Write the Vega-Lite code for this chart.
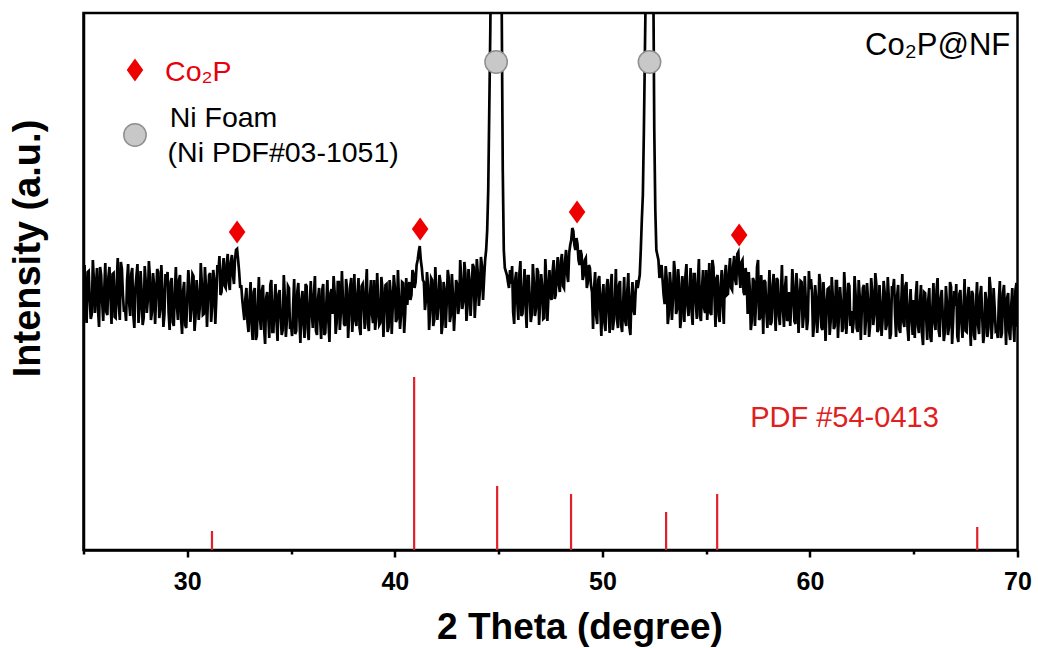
{
"$schema": "https://vega.github.io/schema/vega-lite/v6.json",
"width": 934, "height": 537,
"autosize": {"type": "none"},
"padding": {"left": 83.5, "top": 13, "right": 20.5, "bottom": 98},
"background": "white",
"config": {"view": {"stroke": "black", "strokeWidth": 2.5}, "font": "Liberation Sans"},
"datasets": {
"sticks": [
{"theta":31.19,"intensity":19},{"theta":40.93,"intensity":173},{"theta":44.93,"intensity":64},{"theta":48.49,"intensity":56},{"theta":53.07,"intensity":38},{"theta":55.53,"intensity":56},{"theta":68.06,"intensity":23}
],
"co2p": [
{"theta":32.40,"intensity":318},{"theta":41.22,"intensity":321},{"theta":48.78,"intensity":338},{"theta":56.59,"intensity":315},{"theta":27.48,"intensity":480}
],
"ni": [
{"theta":44.88,"intensity":488},{"theta":52.27,"intensity":488},{"theta":27.48,"intensity":415}
],
"pattern": [
{"theta":25.0,"intensity":268},{"theta":25.1,"intensity":243},{"theta":25.2,"intensity":278},{"theta":25.3,"intensity":250},{"theta":25.4,"intensity":236},{"theta":25.5,"intensity":270},{"theta":25.6,"intensity":263},{"theta":25.7,"intensity":240},{"theta":25.8,"intensity":283},{"theta":25.9,"intensity":248},
{"theta":26.0,"intensity":260},{"theta":26.1,"intensity":238},{"theta":26.2,"intensity":273},{"theta":26.3,"intensity":253},{"theta":26.4,"intensity":276},{"theta":26.5,"intensity":233},{"theta":26.6,"intensity":266},{"theta":26.7,"intensity":246},{"theta":26.8,"intensity":288},{"theta":26.9,"intensity":255},
{"theta":27.0,"intensity":242},{"theta":27.1,"intensity":270},{"theta":27.2,"intensity":247},{"theta":27.3,"intensity":276},{"theta":27.4,"intensity":235},{"theta":27.5,"intensity":262},{"theta":27.6,"intensity":286},{"theta":27.7,"intensity":242},{"theta":27.8,"intensity":259},{"theta":27.9,"intensity":232},
{"theta":28.0,"intensity":268},{"theta":28.1,"intensity":250},{"theta":28.2,"intensity":273},{"theta":28.3,"intensity":238},{"theta":28.4,"intensity":265},{"theta":28.5,"intensity":254},{"theta":28.6,"intensity":278},{"theta":28.7,"intensity":241},{"theta":28.8,"intensity":261},{"theta":28.9,"intensity":236},
{"theta":29.0,"intensity":267},{"theta":29.1,"intensity":238},{"theta":29.2,"intensity":268},{"theta":29.3,"intensity":228},{"theta":29.4,"intensity":257},{"theta":29.5,"intensity":245},{"theta":29.6,"intensity":270},{"theta":29.7,"intensity":232},{"theta":29.8,"intensity":260},{"theta":29.9,"intensity":225},
{"theta":30.0,"intensity":253},{"theta":30.1,"intensity":265},{"theta":30.2,"intensity":240},{"theta":30.3,"intensity":274},{"theta":30.4,"intensity":234},{"theta":30.5,"intensity":256},{"theta":30.6,"intensity":242},{"theta":30.7,"intensity":267},{"theta":30.8,"intensity":236},{"theta":30.9,"intensity":264},
{"theta":31.0,"intensity":252},{"theta":31.1,"intensity":277},{"theta":31.2,"intensity":244},{"theta":31.3,"intensity":271},{"theta":31.4,"intensity":252},{"theta":31.5,"intensity":278},{"theta":31.6,"intensity":255},{"theta":31.7,"intensity":280},{"theta":31.8,"intensity":264},{"theta":31.9,"intensity":287},
{"theta":32.0,"intensity":267},{"theta":32.1,"intensity":288},{"theta":32.2,"intensity":275},{"theta":32.3,"intensity":291},{"theta":32.4,"intensity":301},{"theta":32.5,"intensity":278},{"theta":32.6,"intensity":265},{"theta":32.7,"intensity":240},{"theta":32.8,"intensity":252},{"theta":32.9,"intensity":228},
{"theta":33.0,"intensity":250},{"theta":33.1,"intensity":225},{"theta":33.2,"intensity":258},{"theta":33.3,"intensity":210},{"theta":33.4,"intensity":245},{"theta":33.5,"intensity":232},{"theta":33.6,"intensity":260},{"theta":33.7,"intensity":222},{"theta":33.8,"intensity":252},{"theta":33.9,"intensity":235},
{"theta":34.0,"intensity":265},{"theta":34.1,"intensity":218},{"theta":34.2,"intensity":248},{"theta":34.3,"intensity":228},{"theta":34.4,"intensity":256},{"theta":34.5,"intensity":234},{"theta":34.6,"intensity":220},{"theta":34.7,"intensity":254},{"theta":34.8,"intensity":230},{"theta":34.9,"intensity":262},
{"theta":35.0,"intensity":224},{"theta":35.1,"intensity":244},{"theta":35.2,"intensity":216},{"theta":35.3,"intensity":258},{"theta":35.4,"intensity":232},{"theta":35.5,"intensity":250},{"theta":35.6,"intensity":226},{"theta":35.7,"intensity":266},{"theta":35.8,"intensity":221},{"theta":35.9,"intensity":246},
{"theta":36.0,"intensity":237},{"theta":36.1,"intensity":255},{"theta":36.2,"intensity":219},{"theta":36.3,"intensity":251},{"theta":36.4,"intensity":231},{"theta":36.5,"intensity":260},{"theta":36.6,"intensity":215},{"theta":36.7,"intensity":247},{"theta":36.8,"intensity":228},{"theta":36.9,"intensity":257},
{"theta":37.0,"intensity":236},{"theta":37.1,"intensity":258},{"theta":37.2,"intensity":228},{"theta":37.3,"intensity":268},{"theta":37.4,"intensity":238},{"theta":37.5,"intensity":251},{"theta":37.6,"intensity":224},{"theta":37.7,"intensity":261},{"theta":37.8,"intensity":234},{"theta":37.9,"intensity":272},
{"theta":38.0,"intensity":241},{"theta":38.1,"intensity":230},{"theta":38.2,"intensity":256},{"theta":38.3,"intensity":222},{"theta":38.4,"intensity":264},{"theta":38.5,"intensity":243},{"theta":38.6,"intensity":260},{"theta":38.7,"intensity":226},{"theta":38.8,"intensity":254},{"theta":38.9,"intensity":236},
{"theta":39.0,"intensity":270},{"theta":39.1,"intensity":232},{"theta":39.2,"intensity":248},{"theta":39.3,"intensity":227},{"theta":39.4,"intensity":262},{"theta":39.5,"intensity":239},{"theta":39.6,"intensity":266},{"theta":39.7,"intensity":223},{"theta":39.8,"intensity":257},{"theta":39.9,"intensity":244},
{"theta":40.0,"intensity":263},{"theta":40.1,"intensity":231},{"theta":40.2,"intensity":252},{"theta":40.3,"intensity":235},{"theta":40.4,"intensity":267},{"theta":40.5,"intensity":237},{"theta":40.6,"intensity":245},{"theta":40.7,"intensity":268},{"theta":40.8,"intensity":255},{"theta":40.9,"intensity":276},
{"theta":41.0,"intensity":268},{"theta":41.1,"intensity":290},{"theta":41.2,"intensity":304},{"theta":41.3,"intensity":282},{"theta":41.4,"intensity":268},{"theta":41.5,"intensity":250},{"theta":41.6,"intensity":265},{"theta":41.7,"intensity":238},{"theta":41.8,"intensity":270},{"theta":41.9,"intensity":230},
{"theta":42.0,"intensity":258},{"theta":42.1,"intensity":244},{"theta":42.2,"intensity":268},{"theta":42.3,"intensity":226},{"theta":42.4,"intensity":260},{"theta":42.5,"intensity":247},{"theta":42.6,"intensity":272},{"theta":42.7,"intensity":235},{"theta":42.8,"intensity":255},{"theta":42.9,"intensity":240},
{"theta":43.0,"intensity":266},{"theta":43.1,"intensity":243},{"theta":43.2,"intensity":270},{"theta":43.3,"intensity":248},{"theta":43.4,"intensity":277},{"theta":43.5,"intensity":243},{"theta":43.6,"intensity":269},{"theta":43.7,"intensity":255},{"theta":43.8,"intensity":283},{"theta":43.9,"intensity":252},
{"theta":44.0,"intensity":276},{"theta":44.1,"intensity":260},{"theta":44.2,"intensity":284},{"theta":44.3,"intensity":271},{"theta":44.35,"intensity":290},{"theta":44.4,"intensity":300},{"theta":44.45,"intensity":320},{"theta":44.5,"intensity":360},{"theta":44.55,"intensity":440},{"theta":44.6,"intensity":520},
{"theta":44.65,"intensity":640},{"theta":44.7,"intensity":1500},{"theta":44.8,"intensity":4000},{"theta":44.95,"intensity":4000},{"theta":45.05,"intensity":1500},{"theta":45.1,"intensity":640},{"theta":45.15,"intensity":540},{"theta":45.2,"intensity":380},{"theta":45.25,"intensity":300},{"theta":45.3,"intensity":282},
{"theta":45.4,"intensity":275},{"theta":45.5,"intensity":262},{"theta":45.6,"intensity":266},{"theta":45.7,"intensity":238},{"theta":45.8,"intensity":271},{"theta":45.9,"intensity":248},
{"theta":46.0,"intensity":276},{"theta":46.1,"intensity":234},{"theta":46.2,"intensity":261},{"theta":46.3,"intensity":244},{"theta":46.4,"intensity":274},{"theta":46.5,"intensity":251},{"theta":46.6,"intensity":236},{"theta":46.7,"intensity":268},{"theta":46.8,"intensity":241},{"theta":46.9,"intensity":278},
{"theta":47.0,"intensity":248},{"theta":47.1,"intensity":264},{"theta":47.2,"intensity":232},{"theta":47.3,"intensity":270},{"theta":47.4,"intensity":253},{"theta":47.5,"intensity":254},{"theta":47.6,"intensity":278},{"theta":47.7,"intensity":251},{"theta":47.8,"intensity":280},{"theta":47.9,"intensity":265},
{"theta":48.0,"intensity":289},{"theta":48.1,"intensity":264},{"theta":48.2,"intensity":289},{"theta":48.3,"intensity":276},{"theta":48.4,"intensity":297},{"theta":48.5,"intensity":310},{"theta":48.6,"intensity":319},{"theta":48.7,"intensity":300},{"theta":48.8,"intensity":306},{"theta":48.9,"intensity":285},
{"theta":49.0,"intensity":295},{"theta":49.1,"intensity":275},{"theta":49.2,"intensity":292},{"theta":49.3,"intensity":268},{"theta":49.4,"intensity":282},{"theta":49.5,"intensity":258},{"theta":49.6,"intensity":262},{"theta":49.7,"intensity":234},{"theta":49.8,"intensity":270},{"theta":49.9,"intensity":240},
{"theta":50.0,"intensity":254},{"theta":50.1,"intensity":227},{"theta":50.2,"intensity":262},{"theta":50.3,"intensity":239},{"theta":50.4,"intensity":265},{"theta":50.5,"intensity":220},{"theta":50.6,"intensity":250},{"theta":50.7,"intensity":231},{"theta":50.8,"intensity":265},{"theta":50.9,"intensity":225},
{"theta":51.0,"intensity":246},{"theta":51.1,"intensity":229},{"theta":51.2,"intensity":259},{"theta":51.3,"intensity":223},{"theta":51.4,"intensity":253},{"theta":51.5,"intensity":240},{"theta":51.6,"intensity":258},{"theta":51.7,"intensity":262},{"theta":51.8,"intensity":275},{"theta":51.85,"intensity":300},
{"theta":51.9,"intensity":330},{"theta":51.95,"intensity":355},{"theta":52.0,"intensity":420},{"theta":52.05,"intensity":500},{"theta":52.1,"intensity":580},{"theta":52.15,"intensity":1500},{"theta":52.25,"intensity":4000},{"theta":52.35,"intensity":4000},{"theta":52.45,"intensity":580},{"theta":52.5,"intensity":420},
{"theta":52.55,"intensity":340},{"theta":52.6,"intensity":300},{"theta":52.7,"intensity":290},{"theta":52.8,"intensity":280},{"theta":52.9,"intensity":270},
{"theta":53.0,"intensity":246},{"theta":53.1,"intensity":271},{"theta":53.2,"intensity":236},{"theta":53.3,"intensity":264},{"theta":53.4,"intensity":251},{"theta":53.5,"intensity":278},{"theta":53.6,"intensity":241},{"theta":53.7,"intensity":266},{"theta":53.8,"intensity":232},{"theta":53.9,"intensity":261},
{"theta":54.0,"intensity":274},{"theta":54.1,"intensity":244},{"theta":54.2,"intensity":259},{"theta":54.3,"intensity":238},{"theta":54.4,"intensity":276},{"theta":54.5,"intensity":248},{"theta":54.6,"intensity":268},{"theta":54.7,"intensity":234},{"theta":54.8,"intensity":262},{"theta":54.9,"intensity":242},
{"theta":55.0,"intensity":280},{"theta":55.1,"intensity":250},{"theta":55.2,"intensity":237},{"theta":55.3,"intensity":290},{"theta":55.4,"intensity":253},{"theta":55.5,"intensity":272},{"theta":55.6,"intensity":235},{"theta":55.7,"intensity":265},{"theta":55.8,"intensity":245},{"theta":55.9,"intensity":275},
{"theta":56.0,"intensity":255},{"theta":56.1,"intensity":278},{"theta":56.2,"intensity":262},{"theta":56.3,"intensity":284},{"theta":56.4,"intensity":270},{"theta":56.5,"intensity":296},{"theta":56.6,"intensity":275},{"theta":56.7,"intensity":288},{"theta":56.8,"intensity":258},{"theta":56.9,"intensity":282},
{"theta":57.0,"intensity":236},{"theta":57.1,"intensity":262},{"theta":57.2,"intensity":229},{"theta":57.3,"intensity":269},{"theta":57.4,"intensity":245},{"theta":57.5,"intensity":290},{"theta":57.6,"intensity":232},{"theta":57.7,"intensity":256},{"theta":57.8,"intensity":270},{"theta":57.9,"intensity":238},
{"theta":58.0,"intensity":253},{"theta":58.1,"intensity":225},{"theta":58.2,"intensity":265},{"theta":58.3,"intensity":242},{"theta":58.4,"intensity":272},{"theta":58.5,"intensity":234},{"theta":58.6,"intensity":256},{"theta":58.7,"intensity":240},{"theta":58.8,"intensity":263},{"theta":58.9,"intensity":229},
{"theta":59.0,"intensity":258},{"theta":59.1,"intensity":245},{"theta":59.2,"intensity":266},{"theta":59.3,"intensity":226},{"theta":59.4,"intensity":260},{"theta":59.5,"intensity":242},{"theta":59.6,"intensity":268},{"theta":59.7,"intensity":234},{"theta":59.8,"intensity":250},{"theta":59.9,"intensity":230},
{"theta":60.0,"intensity":261},{"theta":60.1,"intensity":258},{"theta":60.2,"intensity":226},{"theta":60.3,"intensity":252},{"theta":60.4,"intensity":234},{"theta":60.5,"intensity":266},{"theta":60.6,"intensity":220},{"theta":60.7,"intensity":249},{"theta":60.8,"intensity":238},{"theta":60.9,"intensity":262},
{"theta":61.0,"intensity":229},{"theta":61.1,"intensity":254},{"theta":61.2,"intensity":224},{"theta":61.3,"intensity":269},{"theta":61.4,"intensity":236},{"theta":61.5,"intensity":247},{"theta":61.6,"intensity":222},{"theta":61.7,"intensity":260},{"theta":61.8,"intensity":232},{"theta":61.9,"intensity":264},
{"theta":62.0,"intensity":239},{"theta":62.1,"intensity":227},{"theta":62.2,"intensity":256},{"theta":62.3,"intensity":218},{"theta":62.4,"intensity":253},{"theta":62.5,"intensity":241},{"theta":62.6,"intensity":265},{"theta":62.7,"intensity":230},{"theta":62.8,"intensity":250},{"theta":62.9,"intensity":225},
{"theta":63.0,"intensity":259},{"theta":63.1,"intensity":235},{"theta":63.2,"intensity":265},{"theta":63.3,"intensity":220},{"theta":63.4,"intensity":245},{"theta":63.5,"intensity":230},{"theta":63.6,"intensity":258},{"theta":63.7,"intensity":225},{"theta":63.8,"intensity":252},{"theta":63.9,"intensity":216},
{"theta":64.0,"intensity":260},{"theta":64.1,"intensity":235},{"theta":64.2,"intensity":254},{"theta":64.3,"intensity":221},{"theta":64.4,"intensity":248},{"theta":64.5,"intensity":228},{"theta":64.6,"intensity":264},{"theta":64.7,"intensity":223},{"theta":64.8,"intensity":243},{"theta":64.9,"intensity":231},
{"theta":65.0,"intensity":250},{"theta":65.1,"intensity":254},{"theta":65.2,"intensity":224},{"theta":65.3,"intensity":247},{"theta":65.4,"intensity":216},{"theta":65.5,"intensity":258},{"theta":65.6,"intensity":232},{"theta":65.7,"intensity":250},{"theta":65.8,"intensity":213},{"theta":65.9,"intensity":243},
{"theta":66.0,"intensity":228},{"theta":66.1,"intensity":260},{"theta":66.2,"intensity":220},{"theta":66.3,"intensity":252},{"theta":66.4,"intensity":235},{"theta":66.5,"intensity":218},{"theta":66.6,"intensity":248},{"theta":66.7,"intensity":223},{"theta":66.8,"intensity":263},{"theta":66.9,"intensity":230},
{"theta":67.0,"intensity":244},{"theta":67.1,"intensity":214},{"theta":67.2,"intensity":256},{"theta":67.3,"intensity":227},{"theta":67.4,"intensity":241},{"theta":67.5,"intensity":219},{"theta":67.6,"intensity":253},{"theta":67.7,"intensity":231},{"theta":67.8,"intensity":259},{"theta":67.9,"intensity":215},
{"theta":68.0,"intensity":246},{"theta":68.1,"intensity":225},{"theta":68.2,"intensity":255},{"theta":68.3,"intensity":233},{"theta":68.4,"intensity":217},{"theta":68.5,"intensity":250},{"theta":68.6,"intensity":222},{"theta":68.7,"intensity":262},{"theta":68.8,"intensity":229},{"theta":68.9,"intensity":242},
{"theta":69.0,"intensity":220},{"theta":69.1,"intensity":249},{"theta":69.2,"intensity":212},{"theta":69.3,"intensity":257},{"theta":69.4,"intensity":234},{"theta":69.5,"intensity":252},{"theta":69.6,"intensity":218},{"theta":69.7,"intensity":245},{"theta":69.8,"intensity":226},{"theta":69.9,"intensity":260},
{"theta":70.0,"intensity":223},
{"theta":25.05,"intensity":285},{"theta":25.15,"intensity":227},{"theta":25.25,"intensity":279},{"theta":25.35,"intensity":231},{"theta":25.45,"intensity":290},{"theta":25.55,"intensity":237},{"theta":25.65,"intensity":282},{"theta":25.75,"intensity":223},{"theta":25.85,"intensity":275},{"theta":25.95,"intensity":229},
{"theta":26.05,"intensity":287},{"theta":26.15,"intensity":235},{"theta":26.25,"intensity":283},{"theta":26.35,"intensity":226},{"theta":26.45,"intensity":277},{"theta":26.55,"intensity":232},{"theta":26.65,"intensity":292},{"theta":26.75,"intensity":230},{"theta":26.85,"intensity":281},{"theta":26.95,"intensity":238},
{"theta":27.05,"intensity":229},{"theta":27.15,"intensity":286},{"theta":27.25,"intensity":234},{"theta":27.35,"intensity":282},{"theta":27.45,"intensity":222},{"theta":27.55,"intensity":274},{"theta":27.65,"intensity":227},{"theta":27.75,"intensity":279},{"theta":27.85,"intensity":225},{"theta":27.95,"intensity":284},
{"theta":28.05,"intensity":237},{"theta":28.15,"intensity":289},{"theta":28.25,"intensity":230},{"theta":28.35,"intensity":277},{"theta":28.45,"intensity":226},{"theta":28.55,"intensity":281},{"theta":28.65,"intensity":232},{"theta":28.75,"intensity":285},{"theta":28.85,"intensity":223},{"theta":28.95,"intensity":276},
{"theta":29.05,"intensity":278},{"theta":29.15,"intensity":220},{"theta":29.25,"intensity":272},{"theta":29.35,"intensity":224},{"theta":29.45,"intensity":283},{"theta":29.55,"intensity":230},{"theta":29.65,"intensity":275},{"theta":29.75,"intensity":216},{"theta":29.85,"intensity":268},{"theta":29.95,"intensity":222},
{"theta":30.05,"intensity":280},{"theta":30.15,"intensity":228},{"theta":30.25,"intensity":276},{"theta":30.35,"intensity":219},{"theta":30.45,"intensity":270},{"theta":30.55,"intensity":230},{"theta":30.65,"intensity":287},{"theta":30.75,"intensity":235},{"theta":30.85,"intensity":283},{"theta":30.95,"intensity":223},
{"theta":31.05,"intensity":275},{"theta":31.15,"intensity":228},{"theta":31.25,"intensity":280},{"theta":31.35,"intensity":226},{"theta":31.45,"intensity":285},{"theta":31.55,"intensity":294},{"theta":31.65,"intensity":258},{"theta":31.75,"intensity":292},{"theta":31.85,"intensity":262},{"theta":31.95,"intensity":296},
{"theta":32.05,"intensity":260},{"theta":32.15,"intensity":295},{"theta":32.25,"intensity":266},{"theta":32.35,"intensity":300},{"theta":32.45,"intensity":290},{"theta":32.55,"intensity":262},{"theta":32.65,"intensity":250},{"theta":32.75,"intensity":230},{"theta":32.85,"intensity":262},{"theta":32.95,"intensity":218},
{"theta":33.05,"intensity":268},{"theta":33.15,"intensity":210},{"theta":33.25,"intensity":262},{"theta":33.35,"intensity":214},{"theta":33.45,"intensity":273},{"theta":33.55,"intensity":220},{"theta":33.65,"intensity":265},{"theta":33.75,"intensity":206},{"theta":33.85,"intensity":258},{"theta":33.95,"intensity":212},
{"theta":34.05,"intensity":270},{"theta":34.15,"intensity":218},{"theta":34.25,"intensity":266},{"theta":34.35,"intensity":209},{"theta":34.45,"intensity":260},{"theta":34.55,"intensity":215},{"theta":34.65,"intensity":275},{"theta":34.75,"intensity":213},{"theta":34.85,"intensity":264},{"theta":34.95,"intensity":221},
{"theta":35.05,"intensity":214},{"theta":35.15,"intensity":271},{"theta":35.25,"intensity":219},{"theta":35.35,"intensity":267},{"theta":35.45,"intensity":207},{"theta":35.55,"intensity":259},{"theta":35.65,"intensity":212},{"theta":35.75,"intensity":264},{"theta":35.85,"intensity":210},{"theta":35.95,"intensity":269},
{"theta":36.05,"intensity":222},{"theta":36.15,"intensity":274},{"theta":36.25,"intensity":215},{"theta":36.35,"intensity":262},{"theta":36.45,"intensity":211},{"theta":36.55,"intensity":266},{"theta":36.65,"intensity":217},{"theta":36.75,"intensity":270},{"theta":36.85,"intensity":208},{"theta":36.95,"intensity":261},
{"theta":37.05,"intensity":274},{"theta":37.15,"intensity":216},{"theta":37.25,"intensity":268},{"theta":37.35,"intensity":220},{"theta":37.45,"intensity":279},{"theta":37.55,"intensity":226},{"theta":37.65,"intensity":271},{"theta":37.75,"intensity":212},{"theta":37.85,"intensity":264},{"theta":37.95,"intensity":218},
{"theta":38.05,"intensity":276},{"theta":38.15,"intensity":224},{"theta":38.25,"intensity":272},{"theta":38.35,"intensity":215},{"theta":38.45,"intensity":266},{"theta":38.55,"intensity":221},{"theta":38.65,"intensity":281},{"theta":38.75,"intensity":219},{"theta":38.85,"intensity":270},{"theta":38.95,"intensity":227},
{"theta":39.05,"intensity":220},{"theta":39.15,"intensity":277},{"theta":39.25,"intensity":225},{"theta":39.35,"intensity":273},{"theta":39.45,"intensity":213},{"theta":39.55,"intensity":265},{"theta":39.65,"intensity":218},{"theta":39.75,"intensity":270},{"theta":39.85,"intensity":216},{"theta":39.95,"intensity":275},
{"theta":40.05,"intensity":228},{"theta":40.15,"intensity":280},{"theta":40.25,"intensity":221},{"theta":40.35,"intensity":268},{"theta":40.45,"intensity":217},{"theta":40.55,"intensity":272},{"theta":40.65,"intensity":262},{"theta":40.75,"intensity":250},{"theta":40.85,"intensity":280},{"theta":40.95,"intensity":262},
{"theta":41.05,"intensity":285},{"theta":41.15,"intensity":298},{"theta":41.25,"intensity":290},{"theta":41.35,"intensity":270},{"theta":41.45,"intensity":240},{"theta":41.55,"intensity":278},{"theta":41.65,"intensity":220},{"theta":41.75,"intensity":272},{"theta":41.85,"intensity":224},{"theta":41.95,"intensity":283},
{"theta":42.05,"intensity":230},{"theta":42.15,"intensity":275},{"theta":42.25,"intensity":216},{"theta":42.35,"intensity":268},{"theta":42.45,"intensity":222},{"theta":42.55,"intensity":280},{"theta":42.65,"intensity":228},{"theta":42.75,"intensity":276},{"theta":42.85,"intensity":219},{"theta":42.95,"intensity":270},
{"theta":43.05,"intensity":236},{"theta":43.15,"intensity":290},{"theta":43.25,"intensity":241},{"theta":43.35,"intensity":288},{"theta":43.45,"intensity":229},{"theta":43.55,"intensity":281},{"theta":43.65,"intensity":234},{"theta":43.75,"intensity":286},{"theta":43.85,"intensity":232},{"theta":43.95,"intensity":291},
{"theta":44.05,"intensity":244},{"theta":44.15,"intensity":293},{"theta":44.25,"intensity":250},{"theta":45.45,"intensity":268},{"theta":45.55,"intensity":280},
{"theta":45.65,"intensity":284},{"theta":45.75,"intensity":226},{"theta":45.85,"intensity":278},{"theta":45.95,"intensity":230},{"theta":46.05,"intensity":289},{"theta":46.15,"intensity":236},{"theta":46.25,"intensity":281},{"theta":46.35,"intensity":222},{"theta":46.45,"intensity":274},{"theta":46.55,"intensity":228},
{"theta":46.65,"intensity":286},{"theta":46.75,"intensity":234},{"theta":46.85,"intensity":282},{"theta":46.95,"intensity":225},{"theta":47.05,"intensity":276},{"theta":47.15,"intensity":231},{"theta":47.25,"intensity":291},{"theta":47.35,"intensity":229},{"theta":47.45,"intensity":280},
{"theta":47.55,"intensity":250},{"theta":47.65,"intensity":290},{"theta":47.75,"intensity":255},{"theta":47.85,"intensity":293},{"theta":47.95,"intensity":258},{"theta":48.05,"intensity":296},{"theta":48.15,"intensity":262},{"theta":48.25,"intensity":300},{"theta":48.35,"intensity":268},{"theta":48.45,"intensity":305},
{"theta":48.55,"intensity":322},{"theta":48.65,"intensity":305},{"theta":48.75,"intensity":312},{"theta":48.85,"intensity":290},{"theta":48.95,"intensity":300},{"theta":49.05,"intensity":270},{"theta":49.15,"intensity":290},{"theta":49.25,"intensity":262},{"theta":49.35,"intensity":285},{"theta":49.45,"intensity":265},
{"theta":49.55,"intensity":221},{"theta":49.65,"intensity":278},{"theta":49.75,"intensity":226},{"theta":49.85,"intensity":274},{"theta":49.95,"intensity":214},{"theta":50.05,"intensity":266},{"theta":50.15,"intensity":219},{"theta":50.25,"intensity":271},{"theta":50.35,"intensity":217},{"theta":50.45,"intensity":276},
{"theta":50.55,"intensity":229},{"theta":50.65,"intensity":281},{"theta":50.75,"intensity":222},{"theta":50.85,"intensity":269},{"theta":50.95,"intensity":218},{"theta":51.05,"intensity":273},{"theta":51.15,"intensity":224},{"theta":51.25,"intensity":277},{"theta":51.35,"intensity":215},{"theta":51.45,"intensity":268},
{"theta":51.55,"intensity":235},{"theta":51.65,"intensity":270},{"theta":52.65,"intensity":295},{"theta":52.75,"intensity":272},{"theta":52.85,"intensity":285},{"theta":52.95,"intensity":255},
{"theta":53.05,"intensity":284},{"theta":53.15,"intensity":226},{"theta":53.25,"intensity":278},{"theta":53.35,"intensity":230},{"theta":53.45,"intensity":289},{"theta":53.55,"intensity":236},{"theta":53.65,"intensity":281},{"theta":53.75,"intensity":222},{"theta":53.85,"intensity":274},{"theta":53.95,"intensity":228},
{"theta":54.05,"intensity":286},{"theta":54.15,"intensity":234},{"theta":54.25,"intensity":282},{"theta":54.35,"intensity":225},{"theta":54.45,"intensity":276},{"theta":54.55,"intensity":231},{"theta":54.65,"intensity":291},{"theta":54.75,"intensity":229},{"theta":54.85,"intensity":280},{"theta":54.95,"intensity":237},
{"theta":55.05,"intensity":230},{"theta":55.15,"intensity":287},{"theta":55.25,"intensity":235},{"theta":55.35,"intensity":283},{"theta":55.45,"intensity":223},{"theta":55.55,"intensity":275},{"theta":55.65,"intensity":228},{"theta":55.75,"intensity":280},{"theta":55.85,"intensity":226},{"theta":55.95,"intensity":285},
{"theta":56.05,"intensity":256},{"theta":56.15,"intensity":292},{"theta":56.25,"intensity":260},{"theta":56.35,"intensity":294},{"theta":56.45,"intensity":265},{"theta":56.55,"intensity":298},{"theta":56.65,"intensity":262},{"theta":56.75,"intensity":290},{"theta":56.85,"intensity":255},{"theta":56.95,"intensity":272},
{"theta":57.05,"intensity":278},{"theta":57.15,"intensity":220},{"theta":57.25,"intensity":272},{"theta":57.35,"intensity":224},{"theta":57.45,"intensity":283},{"theta":57.55,"intensity":230},{"theta":57.65,"intensity":275},{"theta":57.75,"intensity":216},{"theta":57.85,"intensity":268},{"theta":57.95,"intensity":222},
{"theta":58.05,"intensity":280},{"theta":58.15,"intensity":228},{"theta":58.25,"intensity":276},{"theta":58.35,"intensity":219},{"theta":58.45,"intensity":270},{"theta":58.55,"intensity":225},{"theta":58.65,"intensity":285},{"theta":58.75,"intensity":223},{"theta":58.85,"intensity":274},{"theta":58.95,"intensity":231},
{"theta":59.05,"intensity":224},{"theta":59.15,"intensity":281},{"theta":59.25,"intensity":229},{"theta":59.35,"intensity":277},{"theta":59.45,"intensity":217},{"theta":59.55,"intensity":269},{"theta":59.65,"intensity":222},{"theta":59.75,"intensity":274},{"theta":59.85,"intensity":220},{"theta":59.95,"intensity":279},
{"theta":60.05,"intensity":271},{"theta":60.15,"intensity":213},{"theta":60.25,"intensity":265},{"theta":60.35,"intensity":217},{"theta":60.45,"intensity":276},{"theta":60.55,"intensity":223},{"theta":60.65,"intensity":268},{"theta":60.75,"intensity":209},{"theta":60.85,"intensity":261},{"theta":60.95,"intensity":215},
{"theta":61.05,"intensity":273},{"theta":61.15,"intensity":221},{"theta":61.25,"intensity":269},{"theta":61.35,"intensity":212},{"theta":61.45,"intensity":263},{"theta":61.55,"intensity":218},{"theta":61.65,"intensity":278},{"theta":61.75,"intensity":216},{"theta":61.85,"intensity":267},{"theta":61.95,"intensity":224},
{"theta":62.05,"intensity":217},{"theta":62.15,"intensity":274},{"theta":62.25,"intensity":222},{"theta":62.35,"intensity":270},{"theta":62.45,"intensity":210},{"theta":62.55,"intensity":262},{"theta":62.65,"intensity":215},{"theta":62.75,"intensity":267},{"theta":62.85,"intensity":213},{"theta":62.95,"intensity":272},
{"theta":63.05,"intensity":225},{"theta":63.15,"intensity":277},{"theta":63.25,"intensity":218},{"theta":63.35,"intensity":265},{"theta":63.45,"intensity":214},{"theta":63.55,"intensity":269},{"theta":63.65,"intensity":220},{"theta":63.75,"intensity":273},{"theta":63.85,"intensity":211},{"theta":63.95,"intensity":264},
{"theta":64.05,"intensity":271},{"theta":64.15,"intensity":213},{"theta":64.25,"intensity":265},{"theta":64.35,"intensity":217},{"theta":64.45,"intensity":276},{"theta":64.55,"intensity":223},{"theta":64.65,"intensity":268},{"theta":64.75,"intensity":209},{"theta":64.85,"intensity":261},{"theta":64.95,"intensity":215},
{"theta":65.05,"intensity":212},{"theta":65.15,"intensity":269},{"theta":65.25,"intensity":217},{"theta":65.35,"intensity":265},{"theta":65.45,"intensity":205},{"theta":65.55,"intensity":257},{"theta":65.65,"intensity":210},{"theta":65.75,"intensity":262},{"theta":65.85,"intensity":208},{"theta":65.95,"intensity":267},
{"theta":66.05,"intensity":220},{"theta":66.15,"intensity":272},{"theta":66.25,"intensity":213},{"theta":66.35,"intensity":260},{"theta":66.45,"intensity":209},{"theta":66.55,"intensity":264},{"theta":66.65,"intensity":215},{"theta":66.75,"intensity":268},{"theta":66.85,"intensity":206},{"theta":66.95,"intensity":259},
{"theta":67.05,"intensity":266},{"theta":67.15,"intensity":208},{"theta":67.25,"intensity":260},{"theta":67.35,"intensity":212},{"theta":67.45,"intensity":271},{"theta":67.55,"intensity":218},{"theta":67.65,"intensity":263},{"theta":67.75,"intensity":204},{"theta":67.85,"intensity":256},{"theta":67.95,"intensity":210},
{"theta":68.05,"intensity":268},{"theta":68.15,"intensity":216},{"theta":68.25,"intensity":264},{"theta":68.35,"intensity":207},{"theta":68.45,"intensity":258},{"theta":68.55,"intensity":213},{"theta":68.65,"intensity":273},{"theta":68.75,"intensity":211},{"theta":68.85,"intensity":262},{"theta":68.95,"intensity":219},
{"theta":69.05,"intensity":212},{"theta":69.15,"intensity":269},{"theta":69.25,"intensity":217},{"theta":69.35,"intensity":265},{"theta":69.45,"intensity":205},{"theta":69.55,"intensity":257},{"theta":69.65,"intensity":210},{"theta":69.75,"intensity":262},{"theta":69.85,"intensity":208},{"theta":69.95,"intensity":267}
],
"notes": [
{"label":"Co₂P","theta":28.93,"intensity":469},
{"label":"Ni Foam","theta":29.15,"intensity":423},
{"label":"(Ni PDF#03-1051)","theta":29.05,"intensity":388}
]
},
"layer": [
{
"data": {"name": "sticks"},
"mark": {"type": "rule", "color": "#e0202a", "strokeWidth": 2.2},
"encoding": {
"x": {"field": "theta", "type": "quantitative", "title": "2 Theta (degree)",
"scale": {"domain": [25, 70], "nice": false, "zero": false},
"axis": {"title": "2 Theta (degree)", "values": [25,30,35,40,45,50,55,60,65,70],
"labelExpr": "datum.value % 10 === 0 ? datum.label : ''",
"tickSize": {"condition": {"test": "datum.value % 10 === 0", "value": 7}, "value": 4},
"tickWidth": 2.5, "tickColor": "black", "domainColor": "black", "domainWidth": 2.5,
"grid": false, "labelFlush": false, "labelOverlap": false,
"labelFont": "Liberation Sans", "labelFontWeight": "bold", "labelFontSize": 25, "labelColor": "black", "labelPadding": 12,
"titleFont": "Liberation Sans", "titleFontWeight": "bold", "titleFontSize": 37, "titleColor": "black", "titlePadding": 15, "titleX": 496}},
"y": {"field": "intensity", "type": "quantitative", "title": "Intensity (a.u.)",
"scale": {"domain": [0, 537], "nice": false, "zero": false},
"axis": {"title": "Intensity (a.u.)", "labels": false, "ticks": false, "grid": false, "domainColor": "black", "domainWidth": 2.5,
"titleFont": "Liberation Sans", "titleFontWeight": "bold", "titleFontSize": 38, "titleColor": "black", "titlePadding": 36, "titleY": 235}},
"y2": {"datum": 0}
}
},
{
"data": {"name": "pattern"},
"mark": {"type": "line", "color": "black", "strokeWidth": 2.7, "clip": true},
"encoding": {
"x": {"field": "theta", "type": "quantitative", "title": "2 Theta (degree)"},
"y": {"field": "intensity", "type": "quantitative", "title": "Intensity (a.u.)"}
}
},
{
"data": {"name": "co2p"},
"mark": {"type": "point", "shape": "M0,-1L0.72,0L0,1L-0.72,0Z", "filled": true, "color": "#ee0000", "opacity": 1, "size": 529, "strokeWidth": 0},
"encoding": {
"x": {"field": "theta", "type": "quantitative", "title": "2 Theta (degree)"},
"y": {"field": "intensity", "type": "quantitative", "title": "Intensity (a.u.)"}
}
},
{
"data": {"name": "ni"},
"mark": {"type": "point", "shape": "circle", "filled": true, "fill": "#c8c8c8", "stroke": "#8f8f8f", "strokeWidth": 1.5, "opacity": 1, "size": 500},
"encoding": {
"x": {"field": "theta", "type": "quantitative", "title": "2 Theta (degree)"},
"y": {"field": "intensity", "type": "quantitative", "title": "Intensity (a.u.)"}
}
},
{
"data": {"name": "notes"},
"mark": {"type": "text", "align": "left", "baseline": "alphabetic", "fontSize": 28.5, "font": "Liberation Sans"},
"encoding": {
"x": {"field": "theta", "type": "quantitative", "title": "2 Theta (degree)"},
"y": {"field": "intensity", "type": "quantitative", "title": "Intensity (a.u.)"},
"text": {"field": "label", "type": "nominal"},
"color": {"field": "label", "type": "nominal", "legend": null,
"scale": {"domain": ["Co₂P", "Ni Foam", "(Ni PDF#03-1051)"], "range": ["#e8000b", "black", "black"]}}
}
},
{
"data": {"values": [{"label": "Co₂P@NF"}]},
"mark": {"type": "text", "align": "right", "baseline": "alphabetic", "fontSize": 31, "font": "Liberation Sans", "color": "black"},
"encoding": {"x": {"datum": 69.65, "type": "quantitative"}, "y": {"datum": 495, "type": "quantitative"}, "text": {"field": "label", "type": "nominal"}}
},
{
"data": {"values": [{"label": "PDF #54-0413"}]},
"mark": {"type": "text", "align": "left", "baseline": "alphabetic", "fontSize": 29, "font": "Liberation Sans", "color": "#e0201e"},
"encoding": {"x": {"datum": 57.12, "type": "quantitative"}, "y": {"datum": 123, "type": "quantitative"}, "text": {"field": "label", "type": "nominal"}}
}
]
}
